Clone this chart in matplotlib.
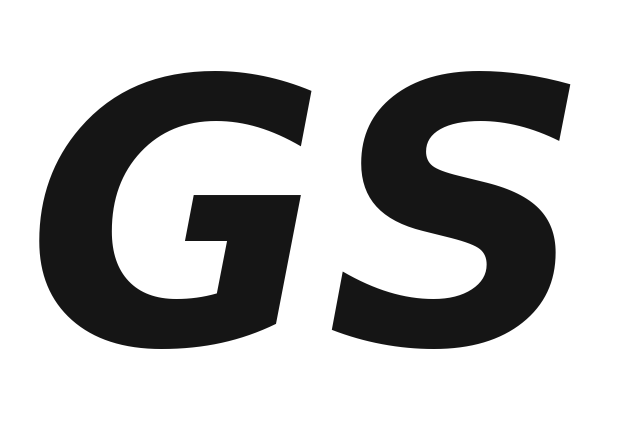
import matplotlib
matplotlib.use('Agg')
import matplotlib.pyplot as plt
import numpy as np

label = "GS"
ink = "#151515"

# box the letters fill in the reference, pixels from top-left
box_left, box_right = 52, 555
box_top, box_bottom = 63, 355

W, H = 630, 422
fig = plt.figure(figsize=(W / 100, H / 100), dpi=100)
fig.patch.set_facecolor("white")

size = 200
t = fig.text(0.5, 0.5, label, fontsize=size, fontweight="bold", fontstyle="italic",
             family=["DejaVu Sans"], color=ink, ha="center", va="center")


def ink_box():
    fig.canvas.draw()
    img = np.asarray(fig.canvas.buffer_rgba())[:, :, 0]
    ys, xs = np.nonzero(img < 128)
    return xs.min(), xs.max(), ys.min(), ys.max()


# fit the glyph ink to the reference box (a couple of passes)
x = y = 0.5
for _ in range(3):
    x0, x1, y0, y1 = ink_box()
    hs = (box_bottom - box_top) / (y1 - y0)
    ws = (box_right - box_left) / (x1 - x0)
    size *= (hs * ws) ** 0.5
    t.set_fontsize(size)
    x0, x1, y0, y1 = ink_box()
    x += ((box_left + box_right) / 2 - (x0 + x1) / 2) / W
    y -= ((box_top + box_bottom) / 2 - (y0 + y1) / 2) / H
    t.set_position((x, y))

fig.savefig("out.png", dpi=100)
